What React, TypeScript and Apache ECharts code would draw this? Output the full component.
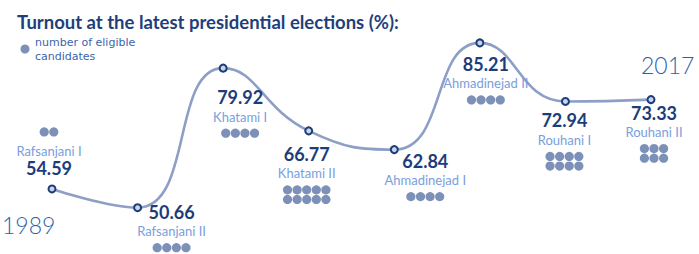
import React, { useEffect, useRef } from "react";
import * as echarts from "echarts";

const TITLE = "Turnout at the latest presidential elections (%):";
const LEGEND_TEXT = ["number of eligible", "candidates"];
const CANDIDATES = [
  "Rafsanjani I",
  "Rafsanjani II",
  "Khatami I",
  "Khatami II",
  "Ahmadinejad I",
  "Ahmadinejad II",
  "Rouhani I",
  "Rouhani II",
];
const TURNOUT = [54.59, 50.66, 79.92, 66.77, 62.84, 85.21, 72.94, 73.33];
const ELIGIBLE = [2, 4, 4, 10, 4, 4, 8, 6];
const YEARS = ["1989", "2017"];

// layout: label block offset from each point [dx, dy of value text]; negative dy => stacked above
const LABEL_OFFSETS = [
  [-3, -21],
  [34, 4],
  [17, 29],
  [-2, 23],
  [31, 11],
  [6, 21],
  [-1, 19],
  [3, 13],
];

const C_TITLE = "#1f3f7b";
const C_VALUE = "#1c3d7a";
const C_NAME = "#7a9edc";
const C_DOT = "#7d90b8";
const C_LINE = "#8d9fc6";
const C_YEAR = "#2f5ea6";
const C_LEGEND = "#3b64ae";
const FONT = "Lato, 'Open Sans', sans-serif";

export default function App() {
  const ref = useRef<HTMLDivElement>(null);
  useEffect(() => {
    if (!ref.current) return;
    const chart = echarts.init(ref.current, undefined, { renderer: "svg" });
    const renderItem = (params: any, api: any) => {
      const i = params.dataIndex;
      const [px, py] = api.coord([api.value(0), api.value(1)]);
      const count = api.value(2);
      const [dx, dy] = LABEL_OFFSETS[i];
      const above = dy < 0;
      const cx = px + dx;
      const vy = py + dy;
      const ny = above ? vy - 17 : vy + 19.5;
      const cols = count <= 4 ? count : Math.ceil(count / 2);
      const rows = Math.ceil(count / cols);
      const pitch = 9.6;
      const dy0 = above ? ny - 19 : ny + 16.5;
      const children: any[] = [
        {
          type: "text",
          x: cx,
          y: vy,
          style: {
            text: TURNOUT[i].toFixed(2),
            font: `bold 18px ${FONT}`,
            fill: C_VALUE,
            align: "center",
            verticalAlign: "middle",
            textAlign: "center",
            textVerticalAlign: "middle",
          },
        },
        {
          type: "text",
          x: cx,
          y: ny,
          style: {
            text: CANDIDATES[i],
            font: `13px ${FONT}`,
            fill: C_NAME,
            align: "center",
            verticalAlign: "middle",
            textAlign: "center",
            textVerticalAlign: "middle",
          },
        },
      ];
      for (let k = 0; k < count; k++) {
        const r = Math.floor(k / cols);
        const c = k % cols;
        const rowY = above ? dy0 - (rows - 1 - r) * pitch : dy0 + r * pitch;
        children.push({
          type: "circle",
          shape: { cx: cx + (c - (cols - 1) / 2) * pitch, cy: rowY, r: 4.6 },
          style: { fill: C_DOT },
        });
      }
      return { type: "group", children };
    };

    chart.setOption({
      animation: false,
      title: {
        text: TITLE,
        left: 12,
        top: 7,
        textStyle: { color: C_TITLE, fontSize: 18.5, fontWeight: "bold", fontFamily: FONT },
      },
      grid: { left: 52, right: 48, top: 1, bottom: 5 },
      xAxis: {
        type: "category",
        data: CANDIDATES,
        boundaryGap: false,
        show: false,
      },
      yAxis: { type: "value", min: 42, max: 94, show: false },
      graphic: [
        { type: "circle", shape: { cx: 25, cy: 49, r: 4.5 }, style: { fill: C_DOT } },
        ...LEGEND_TEXT.map((t, k) => ({
          type: "text",
          x: 35,
          y: 42 + k * 14,
          style: {
            text: t,
            font: `11px 'DejaVu Sans', sans-serif`,
            fill: C_LEGEND,
            verticalAlign: "middle",
            textVerticalAlign: "middle",
          },
        })),
        {
          type: "text",
          x: 2,
          y: 213,
          style: { text: YEARS[0], font: `300 23px ${FONT}`, fill: C_YEAR },
        },
        {
          type: "text",
          x: 641,
          y: 53,
          style: { text: YEARS[1], font: `300 23px ${FONT}`, fill: C_YEAR },
        },
      ],
      series: [
        {
          type: "line",
          data: TURNOUT,
          smooth: 0.5,
          symbol: "circle",
          symbolSize: 7,
          showSymbol: true,
          lineStyle: { color: C_LINE, width: 2.6 },
          itemStyle: { color: "#c9d4ea", borderColor: C_VALUE, borderWidth: 2 },
          z: 2,
        },
        {
          type: "custom",
          data: CANDIDATES.map((_, i) => [i, TURNOUT[i], ELIGIBLE[i]]),
          renderItem,
          z: 3,
        },
      ],
    });
    return () => chart.dispose();
  }, []);
  return (
    <div
      ref={ref}
      style={{ position: "fixed", left: 0, top: 0, width: 699, height: 254, background: "#fff" }}
    />
  );
}
